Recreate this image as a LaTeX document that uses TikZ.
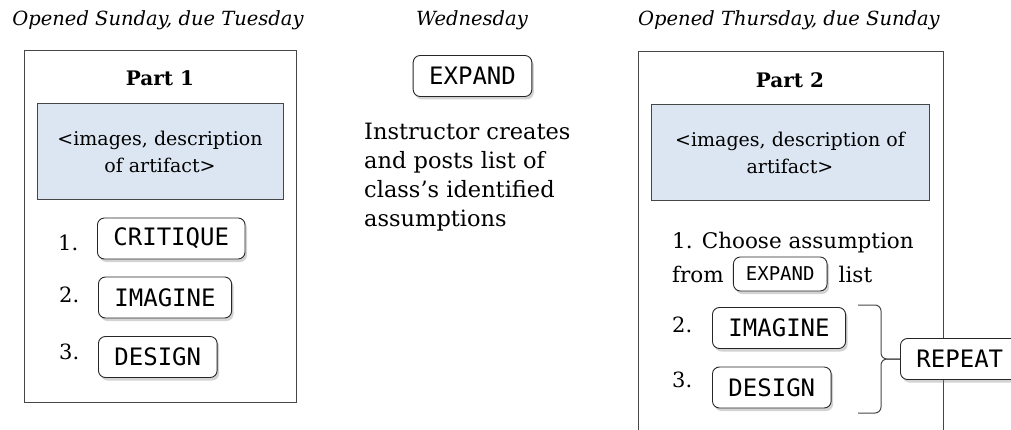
\documentclass[tikz,border=0pt]{standalone}
\usepackage{fontspec}
\setmainfont{DejaVu Serif}
\setmonofont{DejaVu Sans Mono}
\usetikzlibrary{shadows,positioning}
\definecolor{artblue}{RGB}{220,230,242}
\definecolor{edgegray}{RGB}{70,70,70}
\tikzset{partbox/.style={draw=edgegray,line width=0.9pt,anchor=north west,inner sep=0pt}}
\tikzset{artifact/.style={draw=edgegray,fill=artblue,line width=1pt,align=center,inner sep=0pt,font=\fontsize{19}{27}\selectfont}}
\tikzset{skill/.style={draw=black!85,fill=white,rounded corners=7pt,line width=0.9pt,font=\fontsize{24}{26}\ttfamily,inner xsep=16pt,inner ysep=0pt,minimum height=41pt,anchor=west,drop shadow={shadow xshift=2pt,shadow yshift=-3pt,opacity=0.35}}}
\tikzset{smallskill/.style={skill,font=\fontsize{19}{21}\ttfamily,inner xsep=12.5pt,minimum height=34pt}}
\tikzset{daytitle/.style={font=\fontsize{19.5}{22}\itshape}}
\tikzset{parttitle/.style={font=\fontsize{20}{24}\bfseries}}
\tikzset{num/.style={anchor=west,inner sep=0pt,font=\fontsize{21}{24}\selectfont}}
\tikzset{plain/.style={inner sep=0pt,font=\fontsize{22.5}{29}\selectfont}}
\tikzset{bracket/.style={draw=edgegray,line width=1pt,rounded corners=6pt}}

\begin{document}
\begin{tikzpicture}[x=1pt,y=-1pt,node distance=5pt]
    \useasboundingbox (0,0) rectangle (1011,430);
    \clip (0,0) rectangle (1011,430);

    \node[daytitle] (t1) at (158,20) {Opened Sunday, due Tuesday};
    \node[daytitle] (t2) at (472,20) {Wednesday};
    \node[daytitle] (t3) at (789,20) {Opened Thursday, due Sunday};

    \node[partbox,minimum width=272pt,minimum height=352pt] (part1) at (24,50) {};
    \node[parttitle] (p1) at (160,78) {Part 1};
    \node[artifact,minimum width=246pt,minimum height=96pt] (art1) at (160,152) {<images, description\\of artifact>};
    \node[num] (n11) at (58,243) {1.};
    \node[num] (n12) at (59,295) {2.};
    \node[num] (n13) at (59,352) {3.};
    \node[skill] (critique) at (97,238.5) {CRITIQUE};
    \node[skill] (imagine1) at (98,297.5) {IMAGINE};
    \node[skill] (design1) at (98,357) {DESIGN};

    \node[skill,anchor=center] (expand) at (472.5,76) {EXPAND};
    \node[plain,anchor=north west,align=left] (instr) at (364,123) {Instructor creates\\and posts list of\\class’s identified\\assumptions};

    \node[partbox,minimum width=305pt,minimum height=420pt] (part2) at (638,51) {};
    \node[parttitle] (p2) at (790,80) {Part 2};
    \node[artifact,minimum width=278pt,minimum height=96pt] (art2) at (790,153) {<images, description of\\artifact>};
    \node[plain,font=\fontsize{21.5}{28}\selectfont,anchor=west] (choose) at (672,243) {1. Choose assumption};
    \node[plain,font=\fontsize{21.5}{28}\selectfont,anchor=west] (from) at (672,274) {from};
    \node[smallskill,right=9pt of from] (expand2) {EXPAND};
    \node[plain,font=\fontsize{21.5}{28}\selectfont,right=11pt of expand2] (list) {list};
    \node[num] (n22) at (672,325) {2.};
    \node[num] (n23) at (672,380) {3.};
    \node[skill] (imagine2) at (712,328) {IMAGINE};
    \node[skill] (design2) at (712,387.5) {DESIGN};
    \node[skill] (repeat) at (900,359) {REPEAT};

    \coordinate (btop) at (858,305);
    \coordinate (bbot) at (858,413);
    \draw[bracket] (btop) -| ([xshift=-19pt]repeat.west) -- (repeat.west);
    \draw[bracket] (bbot) -| ([xshift=-19pt]repeat.west) -- (repeat.west);
\end{tikzpicture}
\end{document}
